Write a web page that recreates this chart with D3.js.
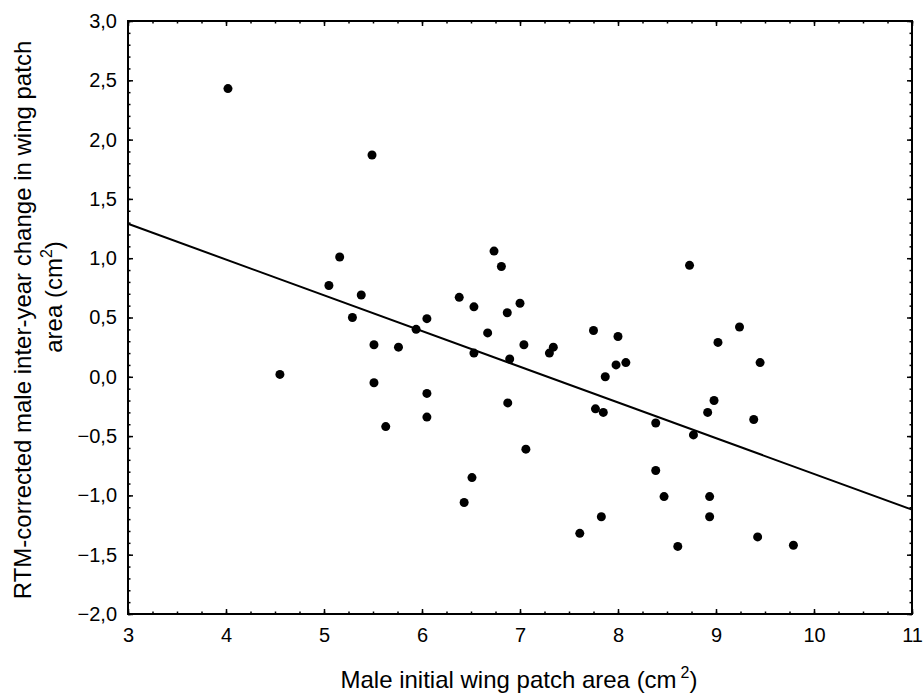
<!DOCTYPE html>
<html>
<head>
<meta charset="utf-8">
<script src="https://cdn.jsdelivr.net/npm/d3@7"></script>
<style>
body { margin: 0; background: #fff; }
text { font-family: "Liberation Sans", Arial, sans-serif; fill: #000; }
</style>
</head>
<body>
<svg width="923" height="700"></svg>
<script>
// initial wing patch area (x) and RTM-corrected change (y)
var patchArea = [4.02, 4.55, 5.49, 5.16, 5.05, 5.38, 5.29, 5.51, 5.76, 5.94,
    6.05, 5.51, 6.05, 6.05, 5.63, 6.735, 6.81, 6.38, 6.53, 7.0,
    6.87, 6.67, 6.53, 7.04, 6.895, 7.34, 7.30, 7.75, 8.0, 7.98,
    8.08, 7.87, 6.875, 7.06, 6.51, 6.43, 7.77, 7.85, 8.385, 8.385,
    8.47, 7.83, 7.61, 8.73, 9.24, 9.02, 9.45, 8.98, 8.915, 9.385,
    8.77, 8.935, 8.935, 8.61, 9.425, 9.79];
var areaChange = [2.43, 0.02, 1.87, 1.01, 0.77, 0.69, 0.50, 0.27, 0.25, 0.40,
    0.49, -0.05, -0.14, -0.34, -0.42, 1.06, 0.93, 0.67, 0.59, 0.62,
    0.54, 0.37, 0.20, 0.27, 0.15, 0.25, 0.20, 0.39, 0.34, 0.10,
    0.12, 0.00, -0.22, -0.61, -0.85, -1.06, -0.27, -0.30, -0.39, -0.79,
    -1.01, -1.18, -1.32, 0.94, 0.42, 0.29, 0.12, -0.20, -0.30, -0.36,
    -0.49, -1.01, -1.18, -1.43, -1.35, -1.42];

// fitted regression line, read at both ends of the x range
var fitX = [3, 11];
var fitY = [1.29, -1.12];

var xTicks = [3, 4, 5, 6, 7, 8, 9, 10, 11];
var yTicks = [-2, -1.5, -1, -0.5, 0, 0.5, 1, 1.5, 2, 2.5, 3];

var plotLeft = 128, plotRight = 912, plotTop = 21, plotBottom = 614;

var svg = d3.select("svg");

var xScale = d3.scaleLinear()
    .domain([3, 11])
    .range([plotLeft, plotRight]);

var yScale = d3.scaleLinear()
    .domain([-2, 3])
    .range([plotBottom, plotTop]);

var fmt = d3.formatLocale({decimal: ",", thousands: ".", grouping: [3], currency: ["", ""]}).format(".1f");

var xMinor = d3.range(3, 11.001, 0.25);
var yMinor = d3.range(-2, 3.001, 0.1);

function styleAxis(g) {
    g.select(".domain").remove();
    g.selectAll("line").attr("stroke", "#000").attr("stroke-width", 1.5);
}

// minor ticks on all four sides
svg.append("g").attr("transform", "translate(0," + plotBottom + ")")
    .call(d3.axisBottom(xScale).tickValues(xMinor).tickSize(-2.5).tickFormat(""))
    .call(styleAxis);
svg.append("g").attr("transform", "translate(0," + plotTop + ")")
    .call(d3.axisTop(xScale).tickValues(xMinor).tickSize(-2.5).tickFormat(""))
    .call(styleAxis);
svg.append("g").attr("transform", "translate(" + plotLeft + ",0)")
    .call(d3.axisLeft(yScale).tickValues(yMinor).tickSize(-2.5).tickFormat(""))
    .call(styleAxis);
svg.append("g").attr("transform", "translate(" + plotRight + ",0)")
    .call(d3.axisRight(yScale).tickValues(yMinor).tickSize(-2.5).tickFormat(""))
    .call(styleAxis);

// major ticks with labels
var xAxis = svg.append("g").attr("transform", "translate(0," + plotBottom + ")")
    .call(d3.axisBottom(xScale).tickValues(xTicks).tickSize(-5).tickPadding(14).tickFormat(d3.format("d")))
    .call(styleAxis);
xAxis.selectAll("text").style("font-size", "20px").attr("font-family", null);

svg.append("g").attr("transform", "translate(0," + plotTop + ")")
    .call(d3.axisTop(xScale).tickValues(xTicks).tickSize(-5).tickFormat(""))
    .call(styleAxis);

var yAxis = svg.append("g").attr("transform", "translate(" + plotLeft + ",0)")
    .call(d3.axisLeft(yScale).tickValues(yTicks).tickSize(-5).tickPadding(11).tickFormat(fmt))
    .call(styleAxis);
yAxis.selectAll("text").style("font-size", "20px").attr("font-family", null);

svg.append("g").attr("transform", "translate(" + plotRight + ",0)")
    .call(d3.axisRight(yScale).tickValues(yTicks).tickSize(-5).tickFormat(""))
    .call(styleAxis);

// frame
svg.append("rect")
    .attr("x", plotLeft).attr("y", plotTop)
    .attr("width", plotRight - plotLeft).attr("height", plotBottom - plotTop)
    .attr("fill", "none").attr("stroke", "#000").attr("stroke-width", 2);

// regression line
svg.append("line")
    .attr("x1", xScale(fitX[0])).attr("y1", yScale(fitY[0]))
    .attr("x2", xScale(fitX[1])).attr("y2", yScale(fitY[1]))
    .attr("stroke", "#000").attr("stroke-width", 2);

// points
svg.selectAll("circle.pt")
    .data(patchArea)
    .enter()
    .append("circle")
    .attr("class", "pt")
    .attr("cx", function(d) { return xScale(d); })
    .attr("cy", function(d, i) { return yScale(areaChange[i]); })
    .attr("r", 4.5)
    .attr("fill", "#000");

// axis titles
var xt = svg.append("text")
    .attr("x", 519).attr("y", 688)
    .attr("text-anchor", "middle")
    .style("font-size", "24px");
xt.append("tspan").text("Male initial wing patch area (cm");
xt.append("tspan").attr("dx", 4).attr("dy", -10).style("font-size", "16px").text("2");
xt.append("tspan").attr("dy", 10).text(")");

var yt1 = svg.append("text")
    .attr("transform", "translate(31,320) rotate(-90)")
    .attr("text-anchor", "middle")
    .style("font-size", "24px")
    .text("RTM-corrected male inter-year change in wing patch");

var yt2 = svg.append("text")
    .attr("transform", "translate(62,297) rotate(-90)")
    .attr("text-anchor", "middle")
    .style("font-size", "24px");
yt2.append("tspan").text("area (cm");
yt2.append("tspan").attr("dy", -10).style("font-size", "16px").text("2");
yt2.append("tspan").attr("dy", 10).text(")");
</script>
</body>
</html>
